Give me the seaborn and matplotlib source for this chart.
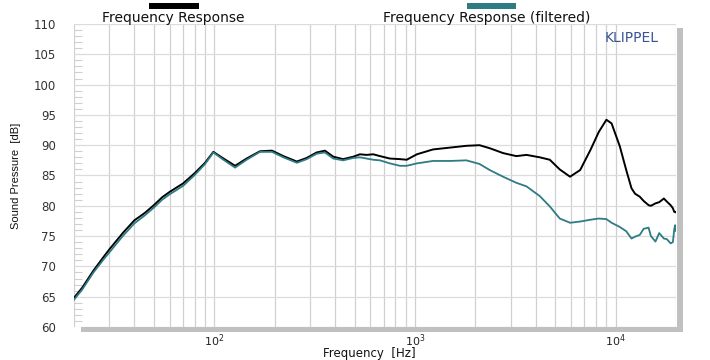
import matplotlib
matplotlib.use("Agg")
import matplotlib.pyplot as plt
import matplotlib.ticker as mticker
from matplotlib.patches import Rectangle
import seaborn as sns
import pandas as pd

# frequency grid [Hz]
freq = [20, 22, 25, 28, 30, 35, 40, 45, 50, 55, 60, 70, 80, 90, 99, 110, 127, 145,
        169, 194, 221, 258, 289, 324, 356, 392, 439, 493, 532, 574, 620, 670, 750,
        843, 910, 1023, 1230, 1492, 1806, 2100, 2360, 2750, 3200, 3600, 4190, 4700,
        5270, 5930, 6660, 7490, 8250, 9000, 9550, 10500, 11300, 12000, 12500, 13200,
        13800, 14600, 15000, 15800, 16500, 17400, 18000, 18800, 19300, 19600, 19800, 20000]

# sound pressure [dB], raw response
spl = [64.8, 66.5, 69.3, 71.5, 72.8, 75.5, 77.6, 78.8, 80.1, 81.4, 82.3, 83.7, 85.4, 87.1,
       88.9, 87.9, 86.6, 87.8, 89.0, 89.1, 88.2, 87.3, 87.9, 88.8, 89.1, 88.1, 87.7, 88.1,
       88.5, 88.4, 88.5, 88.2, 87.8, 87.7, 87.6, 88.5, 89.3, 89.6, 89.9, 90.0, 89.5, 88.7,
       88.2, 88.4, 88.0, 87.6, 86.0, 84.8, 85.9, 89.2, 92.2, 94.2, 93.6, 89.8, 85.9, 82.9,
       82.0, 81.5, 80.8, 80.1, 80.0, 80.4, 80.6, 81.2, 80.7, 80.1, 79.6, 79.0, 79.0, 78.9]

# sound pressure [dB], filtered response
spl_filt = [64.5, 66.2, 69.0, 71.1, 72.3, 75.0, 77.1, 78.4, 79.7, 81.0, 81.9, 83.3, 85.1, 86.9,
            88.8, 87.7, 86.3, 87.6, 88.9, 88.9, 88.0, 87.1, 87.7, 88.6, 88.8, 87.8, 87.5, 87.9,
            88.0, 87.8, 87.6, 87.5, 87.0, 86.6, 86.6, 87.0, 87.4, 87.4, 87.5, 86.9, 85.9, 84.8,
            83.8, 83.2, 81.6, 79.9, 77.9, 77.2, 77.4, 77.7, 77.9, 77.8, 77.2, 76.5, 75.8, 74.6,
            74.9, 75.2, 76.2, 76.4, 75.0, 74.1, 75.5, 74.6, 74.5, 73.8, 74.0, 76.1, 76.8, 75.8]

labels = ["Frequency Response", "Frequency Response (filtered)"]
colors = ["#000000", "#2e7b83"]

df = pd.DataFrame({"freq": freq, "raw": spl, "filtered": spl_filt})

sns.set_style("white")
plt.rcParams["font.family"] = ["DejaVu Sans"]

fig = plt.figure(figsize=(7.1, 3.6), dpi=100)
ax = fig.add_axes([0.1042, 0.0917, 0.8479, 0.8416])

sns.lineplot(data=df, x="freq", y="raw", color=colors[0], lw=1.4, ax=ax)
sns.lineplot(data=df, x="freq", y="filtered", color=colors[1], lw=1.3, ax=ax)

ax.set_xscale("log")
ax.set_xlim(20, 20000)
ax.set_ylim(60, 110)
ax.set_yticks(range(60, 111, 5))
ax.yaxis.set_minor_locator(mticker.MultipleLocator(1))
ax.xaxis.set_major_locator(mticker.LogLocator(base=10))
ax.xaxis.set_minor_locator(mticker.LogLocator(base=10, subs=range(2, 10)))
ax.xaxis.set_minor_formatter(mticker.NullFormatter())

ax.grid(True, which="major", axis="y", color="#dcdcdc", lw=0.9)
ax.grid(True, which="both", axis="x", color="#d0d0d0", lw=0.9)
for s in ax.spines.values():
    s.set_visible(False)

ax.tick_params(axis="x", which="both", length=0, labelsize=8, pad=4, colors="#222222")
ax.tick_params(axis="y", which="major", direction="out", length=6, width=0.8,
               color="#d0d0d0", labelsize=8.5, pad=7, labelcolor="#333333")
ax.tick_params(axis="y", which="minor", direction="in", length=6, width=0.8,
               color="#d0d0d0", left=True)

ax.set_xlabel("Frequency  [Hz]", fontsize=8.5, color="#111111", va="center")
ax.set_ylabel("Sound Pressure  [dB]", fontsize=8, family="Liberation Sans", color="#111111")
ax.xaxis.set_label_coords(0.49, -0.0875)
ax.yaxis.set_label_coords(-0.088, 0.5)

# drop shadow on the right and bottom of the plot frame
fig.add_artist(Rectangle((0.114, 0.0778), 0.848, 0.0139, transform=fig.transFigure,
                         color="#c0c0c0", lw=0))
fig.add_artist(Rectangle((0.9535, 0.0778), 0.0085, 0.844, transform=fig.transFigure,
                         color="#c0c0c0", lw=0))

# legend: bar above text
fig.add_artist(Rectangle((0.2099, 0.975), 0.0704, 0.0167, transform=fig.transFigure,
                         color=colors[0], lw=0))
fig.text(0.244, 0.951, labels[0], ha="center", va="center", fontsize=10, color="#111111")
fig.add_artist(Rectangle((0.6577, 0.975), 0.069, 0.0167, transform=fig.transFigure,
                         color=colors[1], lw=0))
fig.text(0.686, 0.951, labels[1], ha="center", va="center", fontsize=10, color="#111111")

fig.text(0.889, 0.894, "KLIPPEL", ha="center", va="center", fontsize=10, color="#3a5596")

fig.savefig("out.png", dpi=100)
